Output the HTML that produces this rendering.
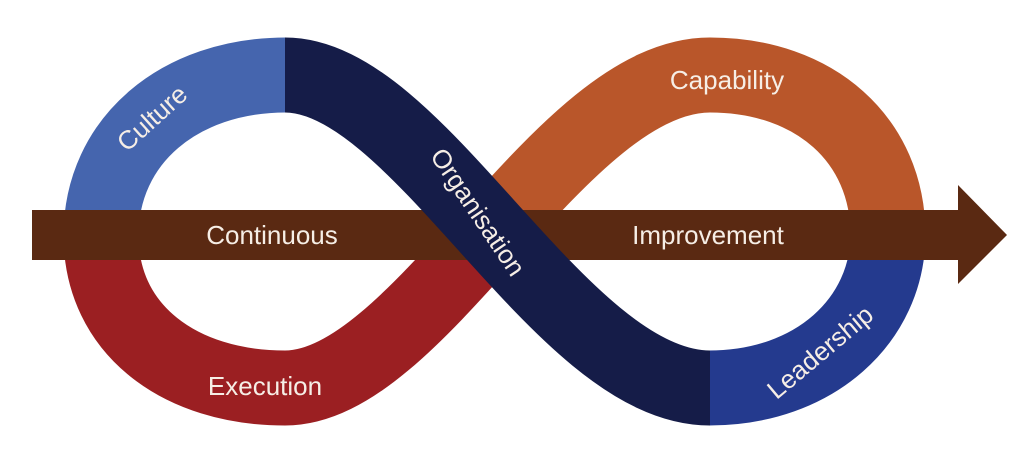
<!DOCTYPE html>
<html><head><meta charset="utf-8"><style>
html,body{margin:0;padding:0;background:#fff;}
svg{display:block;}
text{font-family:"Liberation Sans",sans-serif;fill:#f6eee6;font-size:26px;text-anchor:middle;dominant-baseline:central;}
</style></head><body>
<svg width="1024" height="461" viewBox="0 0 1024 461" xmlns="http://www.w3.org/2000/svg">
<g fill="none" stroke-width="75">
<path d="M888,235 C888,140 815,75 710,75 C635,75 562.5,153.25 491.9,231.5" stroke="#b9562a"/>
<path d="M491.9,231.5 C421.25,309.75 352.5,388 285,388 C180,388 101,330 101,235" stroke="#9b1f22"/>
<path d="M101,236 C101,140 180,75 286,75" stroke="#4565ae"/>
<path d="M709,388 C815,388 888,320 888,234" stroke="#243a8e"/>
</g>
<rect x="32" y="210" width="927" height="50" fill="#5a2912"/>
<polygon points="958,185 1007,235 958,284" fill="#5a2912"/>
<path d="M285,75 C420,75 560,388 710,388" fill="none" stroke="#151c48" stroke-width="75"/>
<text x="272" y="235">Continuous</text>
<text x="708" y="235">Improvement</text>
<text x="727" y="80">Capability</text>
<text x="265" y="386">Execution</text>
<text x="152" y="118" transform="rotate(-42 152 118)">Culture</text>
<text x="478" y="212" transform="rotate(56 478 212)">Organisation</text>
<text x="820" y="352" transform="rotate(-40 820 352)">Leadership</text>
</svg>
</body></html>
